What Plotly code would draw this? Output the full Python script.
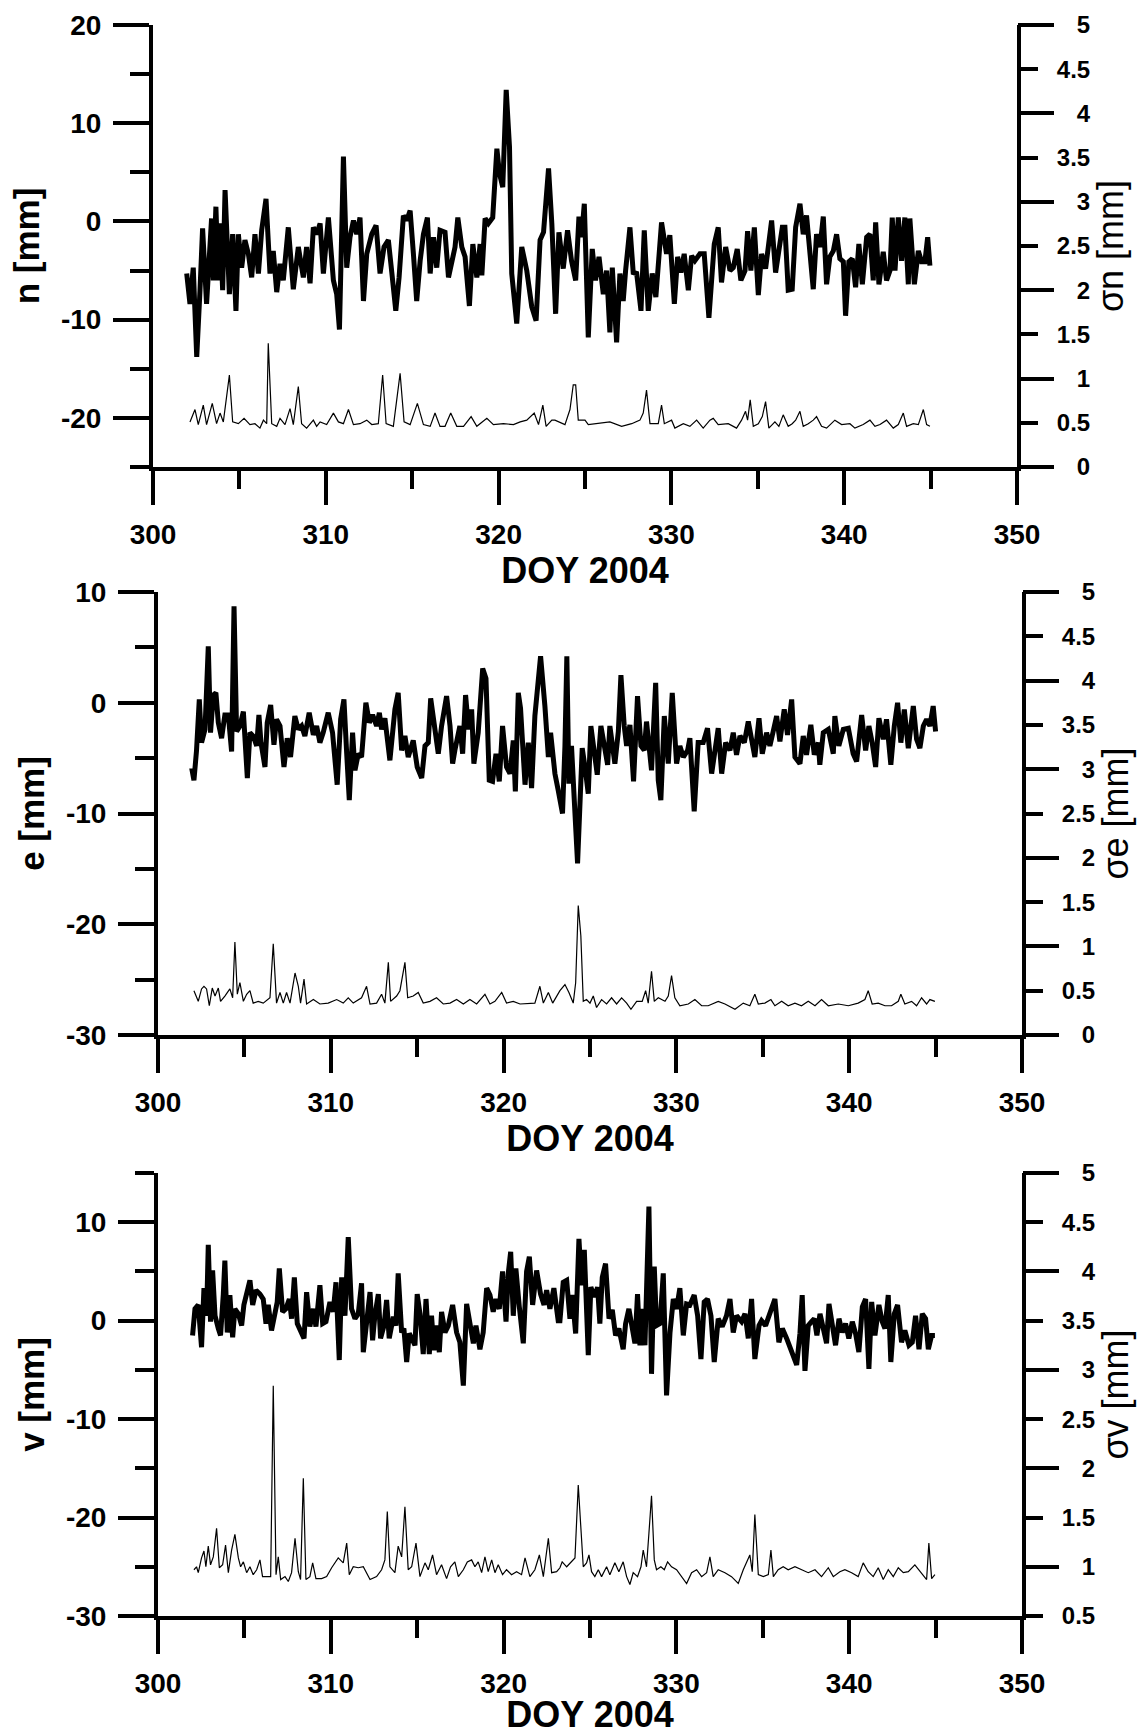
import plotly.graph_objects as go

# ---------------- data ----------------
# Panel 1: n residuals [mm] and sigma_n [mm]
n_doy = [301.95,302.14,302.33,302.53,302.72,302.87,303.10,303.30,303.39,303.49,303.64,303.78,303.88,304.03,304.17,
         304.42,304.61,304.80,304.94,305.13,305.32,305.52,305.71,305.90,306.10,306.29,306.54,306.77,306.96,307.16,
         307.35,307.54,307.83,308.12,308.41,308.70,308.89,309.09,309.28,309.47,309.67,309.86,310.15,310.44,310.63,
         310.79,311.02,311.21,311.40,311.60,311.79,311.98,312.18,312.37,312.66,312.91,313.14,313.37,313.62,313.82,
         314.05,314.24,314.49,314.68,314.88,315.07,315.26,315.46,315.65,315.88,316.04,316.23,316.42,316.61,316.90,
         317.10,317.29,317.48,317.64,317.87,318.06,318.31,318.51,318.74,318.93,319.03,319.22,319.41,319.66,319.90,
         320.05,320.24,320.44,320.63,320.76,321.05,321.34,321.63,321.92,322.17,322.40,322.60,322.89,323.08,
         323.30,323.49,323.74,323.99,324.22,324.46,324.65,324.80,324.96,325.19,325.42,325.61,325.81,326.06,326.25,
         326.44,326.58,326.83,327.02,327.21,327.35,327.60,327.79,327.99,328.24,328.43,328.66,328.89,329.10,329.43,
         329.72,329.91,330.17,330.36,330.55,330.74,330.98,331.17,331.36,331.65,331.90,332.17,332.48,332.71,332.90,
         333.14,333.39,333.58,333.81,334.02,334.26,334.41,334.60,334.80,335.03,335.22,335.45,335.80,336.03,336.28,
         336.42,336.57,336.76,336.99,337.19,337.44,337.63,337.82,338.02,338.21,338.40,338.60,338.79,338.98,339.17,
         339.37,339.56,339.75,339.95,340.08,340.27,340.47,340.66,340.85,341.05,341.30,341.49,341.68,341.82,342.01,
         342.26,342.45,342.65,342.78,342.94,343.13,343.32,343.51,343.71,343.80,344.06,344.29,344.48,344.67,344.83,
         344.96]
n_val = [-5.3,-8.4,-4.7,-13.8,-7.0,-0.7,-8.4,-1.9,0.3,-6.0,1.5,-6.0,-0.2,-7.0,3.2,
         -7.4,-1.3,-9.1,-1.3,-4.7,-1.9,-3.3,-5.7,-1.3,-5.3,-0.9,2.3,-5.3,-3.0,-7.2,
         -4.3,-6.0,-0.6,-6.9,-2.6,-5.7,-2.6,-6.3,-0.6,-1.3,-0.2,-5.3,0.4,-6.0,-7.4,
         -11.0,6.6,-4.7,-1.6,0.1,-1.3,0.4,-8.1,-3.3,-1.3,-0.4,-5.3,-2.6,-1.9,-5.2,
         -9.1,-5.7,0.6,0.1,1.1,-3.3,-8.1,-4.0,-1.3,0.4,-5.3,-1.6,-4.7,-0.9,-1.1,
         -5.7,-4.0,-2.6,0.4,-2.6,-3.6,-8.6,-2.3,-5.7,-2.3,-5.5,0.3,-0.2,0.4,7.4,
         4.9,3.5,13.4,7.6,-5.3,-10.4,-2.6,-5.0,-8.7,-10.1,-1.9,-1.1,5.4,-0.2,
         -9.4,-1.1,-4.8,-0.9,-4.0,-6.0,0.5,-1.6,1.8,-11.8,-2.8,-6.0,-3.6,-7.4,-5.0,
         -11.3,-4.7,-12.3,-5.3,-8.1,-5.0,-0.6,-5.2,-5.3,-9.1,-0.9,-9.1,-5.3,-7.7,-0.1,
         -3.3,-1.4,-8.4,-3.6,-5.2,-3.3,-7.0,-3.5,-4.0,-3.3,-3.3,-9.8,-2.3,-0.6,-6.2,
         -2.6,-5.0,-4.7,-2.8,-6.0,-5.0,-1.0,-5.0,-0.6,-7.5,-3.3,-4.8,0.1,-5.2,-2.6,
         -0.6,-0.6,-7.0,-6.9,-0.6,1.8,-1.3,0.6,-4.0,-6.9,-1.3,-2.6,0.5,-6.4,-3.6,
         -3.0,-1.3,-3.8,-4.1,-9.6,-4.1,-3.8,-6.7,-2.3,-6.4,-1.6,-1.3,-6.0,-0.1,-6.4,
         -3.1,-6.0,-5.0,0.4,-5.0,0.4,-4.0,0.4,-6.4,0.3,-6.4,-3.0,-4.1,-4.1,-1.6,
         -4.5]

sn_doy = [302.14,302.43,302.62,302.91,303.10,303.43,303.68,303.88,304.07,304.42,304.61,304.94,305.27,305.61,305.90,
          306.19,306.39,306.58,306.67,306.87,307.16,307.35,307.64,307.93,308.12,308.41,308.60,308.89,309.28,309.47,
          309.67,310.05,310.44,310.73,311.02,311.31,311.60,311.98,312.37,312.66,313.04,313.29,313.49,313.91,314.30,
          314.53,314.88,315.30,315.65,316.04,316.32,316.61,316.90,317.23,317.58,317.97,318.41,318.74,319.32,319.70,
          320.28,320.86,321.25,321.63,322.06,322.31,322.56,322.75,323.08,
          323.26,323.84,324.13,324.32,324.46,324.61,325.00,325.19,325.77,326.44,327.12,327.70,328.18,328.37,328.56,
          328.76,329.24,329.43,329.59,330.01,330.20,330.69,331.07,331.46,331.84,332.23,332.42,332.71,333.29,333.77,
          334.06,334.29,334.41,334.56,334.74,335.03,335.26,335.45,335.64,335.99,336.22,336.47,336.76,336.99,337.19,
          337.44,337.63,337.92,338.21,338.40,338.69,338.98,339.46,339.85,340.33,340.62,341.10,341.49,341.78,342.07,
          342.45,342.84,343.13,343.42,343.61,344.00,344.29,344.58,344.77,344.96]
sn_val = [0.51,0.65,0.48,0.70,0.48,0.72,0.49,0.61,0.51,1.04,0.51,0.49,0.55,0.48,0.49,
          0.44,0.53,0.49,1.40,0.49,0.46,0.55,0.48,0.66,0.48,0.91,0.49,0.44,0.53,0.46,
          0.51,0.48,0.61,0.51,0.49,0.65,0.48,0.49,0.53,0.48,0.49,1.04,0.49,0.46,1.06,
          0.51,0.48,0.72,0.48,0.46,0.61,0.46,0.46,0.61,0.46,0.46,0.57,0.46,0.55,0.48,
          0.49,0.48,0.51,0.53,0.61,0.48,0.70,0.46,0.53,
          0.53,0.48,0.65,0.93,0.93,0.53,0.53,0.48,0.49,0.51,0.46,0.49,0.53,0.61,0.87,
          0.49,0.49,0.70,0.49,0.53,0.44,0.49,0.46,0.53,0.44,0.53,0.55,0.48,0.49,0.44,
          0.53,0.63,0.53,0.76,0.46,0.49,0.57,0.74,0.44,0.51,0.46,0.59,0.46,0.49,0.53,
          0.63,0.46,0.49,0.53,0.57,0.46,0.44,0.53,0.48,0.49,0.44,0.48,0.53,0.46,0.48,
          0.53,0.44,0.48,0.61,0.46,0.49,0.48,0.65,0.48,0.46]

# Panel 2: e residuals [mm] and sigma_e [mm]
e_doy = [301.95,302.08,302.23,302.39,302.52,302.72,302.91,303.04,303.20,303.35,303.49,303.68,303.87,304.07,304.26,
         304.40,304.55,304.74,304.94,305.17,305.32,305.51,305.71,305.84,305.96,306.19,306.32,306.52,306.71,306.86,
         307.06,307.29,307.48,307.67,307.92,308.12,308.31,308.50,308.75,308.99,309.18,309.37,309.56,309.85,310.10,
         310.37,310.57,310.76,310.92,311.07,311.26,311.40,311.59,311.78,312.03,312.23,312.42,312.65,312.81,312.94,
         313.13,313.42,313.71,313.90,314.10,314.29,314.48,314.77,315.00,315.26,315.45,315.64,315.78,316.03,316.22,
         316.41,316.70,316.90,317.05,317.18,317.47,317.63,317.80,317.97,318.15,318.28,318.53,318.79,318.98,319.17,
         319.36,319.56,319.75,319.94,320.17,320.37,320.56,320.68,320.85,320.98,321.24,321.43,321.62,321.81,322.14,
         322.39,322.59,322.72,322.97,323.16,323.41,
         323.55,323.66,323.78,323.93,324.09,324.28,324.42,324.55,324.71,324.90,325.05,325.25,325.42,325.63,325.82,
         326.02,326.15,326.29,326.44,326.64,326.79,326.98,327.12,327.31,327.52,327.75,327.95,328.14,328.27,328.56,
         328.80,328.95,329.10,329.30,329.53,329.76,330.01,330.20,330.40,330.65,330.78,331.03,331.26,331.55,331.80,
         332.04,332.23,332.42,332.62,332.85,333.10,333.29,333.48,333.68,333.93,334.16,334.35,334.54,334.78,334.97,
         335.22,335.41,335.60,335.80,335.99,336.24,336.43,336.67,336.86,337.15,337.34,337.53,337.78,337.98,338.21,
         338.30,338.50,338.79,339.08,339.17,339.40,339.66,339.95,340.23,340.43,340.72,340.95,341.14,341.33,341.53,
         341.72,341.97,342.16,342.41,342.61,342.80,342.99,343.19,343.42,343.71,343.90,344.09,344.29,344.48,344.67,
         344.86,345.00]
e_val = [-5.9,-7.0,-4.3,0.3,-3.6,-2.4,5.1,-2.7,0.7,0.9,-1.8,-3.2,-1.1,-1.1,-4.4,
         8.7,-2.6,-2.1,-0.8,-6.8,-2.7,-3.0,-3.9,-1.1,-3.6,-5.8,-1.8,-0.2,-3.8,-1.5,
         -2.1,-5.8,-3.2,-4.9,-1.2,-2.4,-2.1,-3.0,-0.9,-2.9,-2.1,-3.6,-2.7,-0.9,-2.7,
         -7.4,-1.5,0.3,-4.6,-8.8,-2.7,-6.1,-4.6,-4.9,0.0,-1.8,-1.1,-2.1,-0.9,-2.4,
         -1.4,-5.2,-0.6,0.9,-4.3,-3.0,-4.9,-3.4,-5.8,-6.8,-3.9,-3.6,0.4,-2.7,-4.6,
         -2.1,0.6,-2.1,-5.5,-4.3,-2.1,-4.6,0.7,-2.4,-0.6,-5.5,-2.7,3.1,2.2,-7.0,
         -7.1,-4.6,-7.1,-2.1,-5.8,-6.4,-3.4,-8.0,0.9,-0.5,-7.4,-3.6,-7.7,-1.2,4.2,
         -0.3,-4.9,-2.7,-6.4,-7.9,-10.0,
         -3.9,4.2,-7.3,-3.9,-8.8,-14.5,-9.1,-4.1,-5.8,-8.2,-2.1,-4.9,-6.5,-2.1,-3.9,
         -5.6,-2.1,-3.6,-5.5,-2.6,2.5,-2.1,-3.9,-2.0,-7.1,0.6,-3.9,-4.3,-1.7,-6.1,
         1.8,-7.0,-8.8,-1.2,-5.5,0.9,-5.5,-3.9,-4.9,-4.3,-3.2,-9.8,-3.6,-3.6,-2.3,
         -6.4,-3.9,-2.3,-6.4,-3.6,-4.3,-2.7,-4.7,-3.0,-3.6,-1.7,-3.3,-4.9,-1.4,-4.6,
         -2.7,-3.9,-2.6,-1.2,-3.5,-0.6,-2.9,0.3,-4.9,-5.5,-3.0,-4.7,-2.0,-4.7,-3.6,
         -5.6,-2.7,-2.4,-4.6,-1.2,-3.9,-2.4,-2.3,-4.6,-5.3,-1.1,-4.3,-2.1,-3.6,-5.8,
         -1.4,-3.3,-1.5,-5.6,-2.1,0.0,-3.6,-0.6,-4.1,-0.3,-3.3,-4.1,-2.1,-1.5,-2.1,
         -0.3,-2.6]

se_doy = [302.08,302.33,302.52,302.66,302.81,302.97,303.14,303.30,303.49,303.62,303.87,304.16,304.32,304.45,304.59,
          304.74,304.94,305.13,305.32,305.51,305.80,306.09,306.48,306.67,306.86,307.06,307.25,307.44,307.64,307.93,
          308.12,308.25,308.45,308.60,308.99,309.37,309.85,310.34,310.72,311.01,311.30,311.78,312.07,312.27,312.65,
          312.94,313.13,313.33,313.46,313.81,314.00,314.29,314.45,314.77,315.06,315.35,315.74,316.12,316.51,316.90,
          317.28,317.67,318.05,318.44,318.92,319.21,319.50,319.89,320.17,320.56,320.95,321.43,321.81,322.10,322.30,
          322.59,322.84,
          323.26,323.55,323.78,324.03,324.17,324.32,324.47,324.61,324.80,325.00,325.19,325.38,325.67,325.96,326.25,
          326.54,326.83,327.12,327.37,327.70,328.02,328.22,328.37,328.56,328.72,328.95,329.34,329.53,329.72,329.91,
          330.20,330.69,331.07,331.46,331.84,332.42,332.81,333.39,333.87,334.25,334.54,334.74,335.12,335.47,335.70,
          336.09,336.47,336.86,337.24,337.63,338.02,338.40,338.79,339.37,339.95,340.52,340.91,341.10,341.33,341.68,
          342.07,342.45,342.84,342.99,343.22,343.61,343.90,344.19,344.48,344.67,344.96]
se_val = [0.50,0.38,0.52,0.55,0.52,0.33,0.53,0.44,0.53,0.38,0.44,0.52,0.42,1.05,0.46,
          0.59,0.38,0.46,0.50,0.36,0.38,0.36,0.42,1.03,0.36,0.48,0.36,0.48,0.36,0.70,
          0.55,0.36,0.63,0.35,0.40,0.35,0.36,0.40,0.36,0.42,0.36,0.42,0.55,0.35,0.36,
          0.46,0.36,0.82,0.38,0.44,0.50,0.82,0.42,0.44,0.48,0.36,0.38,0.42,0.35,0.36,
          0.40,0.35,0.40,0.35,0.46,0.35,0.38,0.48,0.36,0.38,0.35,0.36,0.36,0.55,0.36,
          0.48,0.36,
          0.50,0.57,0.48,0.36,0.59,1.46,1.12,0.38,0.40,0.36,0.44,0.31,0.40,0.35,0.42,
          0.35,0.42,0.36,0.29,0.38,0.38,0.50,0.36,0.72,0.38,0.42,0.38,0.44,0.67,0.42,
          0.33,0.35,0.40,0.33,0.33,0.38,0.35,0.29,0.36,0.33,0.46,0.35,0.36,0.40,0.33,
          0.38,0.33,0.36,0.33,0.38,0.33,0.40,0.33,0.35,0.33,0.36,0.40,0.50,0.35,0.36,
          0.33,0.33,0.38,0.46,0.35,0.38,0.33,0.42,0.35,0.40,0.38]

# Panel 3: v residuals [mm] and sigma_v [mm]
v_doy = [302.00,302.14,302.33,302.52,302.66,302.81,302.91,303.04,303.16,303.30,303.49,303.62,303.78,303.87,304.01,
         304.16,304.32,304.45,304.65,304.84,304.97,305.13,305.32,305.48,305.67,305.90,306.09,306.25,306.38,306.57,
         306.77,306.90,307.02,307.21,307.40,307.60,307.73,307.89,308.06,308.21,308.45,308.60,308.79,308.99,309.14,
         309.37,309.53,309.72,309.95,310.14,310.30,310.49,310.63,310.82,311.01,311.20,311.40,311.59,311.78,311.88,
         312.07,312.27,312.42,312.55,312.75,312.88,313.08,313.23,313.38,313.62,313.77,313.90,314.10,314.23,314.39,
         314.54,314.68,314.87,315.00,315.16,315.35,315.51,315.70,315.83,315.97,316.12,316.28,316.41,316.61,316.80,
         317.05,317.28,317.47,317.67,317.86,318.05,318.25,318.40,318.63,318.82,319.02,319.21,319.40,319.56,319.75,
         319.94,320.14,320.27,320.41,320.56,320.71,320.91,321.14,321.33,321.49,321.68,321.91,322.14,322.34,322.49,
         322.68,322.91,323.16,
         323.26,323.45,323.65,323.84,323.97,324.17,324.36,324.51,324.67,324.90,325.05,325.25,325.44,325.57,325.71,
         325.90,326.10,326.29,326.48,326.67,326.92,327.06,327.25,327.45,327.60,327.75,327.89,328.02,328.18,328.41,
         328.56,328.72,328.85,329.05,329.24,329.43,329.63,329.82,330.01,330.20,330.40,330.59,330.78,331.03,331.23,
         331.42,331.61,331.80,332.00,332.19,332.42,332.65,332.90,333.10,333.29,333.48,333.77,333.97,334.16,334.35,
         334.54,334.78,334.93,335.16,335.41,335.70,335.93,336.13,336.38,336.57,336.76,336.96,337.15,337.28,337.44,
         337.63,337.82,337.98,338.13,338.31,338.50,338.69,338.83,339.02,339.21,339.41,339.60,339.79,339.98,340.18,
         340.37,340.56,340.76,340.95,341.14,341.30,341.49,341.72,341.91,342.07,342.26,342.41,342.61,342.80,343.03,
         343.22,343.46,343.65,343.84,344.04,344.23,344.42,344.58,344.77,344.96]
v_val = [-1.5,1.2,1.6,-2.7,3.3,0.5,7.7,-0.1,5.1,0.5,-0.8,-1.5,2.7,6.1,-1.2,
         2.6,-1.7,1.2,0.7,-0.5,1.6,2.9,4.1,1.6,3.1,2.7,2.2,-0.3,1.6,-1.0,
         1.2,1.9,5.3,0.9,1.2,2.2,0.2,4.4,-0.3,-0.8,-1.8,2.9,-0.6,1.2,-0.6,
         3.6,-0.3,-0.1,1.9,0.9,3.9,-4.0,4.4,0.5,8.5,1.2,0.2,0.7,3.8,-3.2,
         -0.1,2.9,-2.0,0.5,2.7,-1.8,-0.5,2.1,-1.8,0.4,-0.5,4.8,-1.2,-0.8,-4.2,
         -1.3,-1.8,-2.5,2.7,0.7,-3.4,2.2,-3.4,0.5,-3.0,-0.5,-3.2,0.9,-1.2,-0.5,
         1.6,-1.2,-2.2,-6.6,1.7,-0.1,-2.3,-0.5,-2.9,-1.2,3.3,2.6,0.9,2.2,1.2,
         5.0,-0.1,4.8,7.0,0.5,5.3,1.4,-2.3,5.0,6.5,1.6,5.1,2.7,1.6,3.1,
         1.2,3.3,0.0,
         0.0,3.9,4.1,0.2,2.6,-1.3,8.3,3.6,7.2,-3.5,3.4,2.4,3.4,-0.3,4.4,
         5.8,0.2,1.1,-1.5,-0.8,-2.9,-0.3,1.2,-1.2,-2.3,2.7,-2.5,1.2,-2.5,11.6,
         -5.4,5.5,-0.5,-0.3,4.8,-7.6,-1.2,2.2,1.2,3.3,-1.5,1.7,1.6,2.6,0.5,
         -3.9,1.9,2.2,0.5,-4.2,0.2,-0.6,0.5,2.2,-1.2,0.5,-0.1,0.7,-1.8,2.2,
         -3.9,-0.5,0.0,-0.5,0.9,2.2,-2.2,-0.8,-1.8,-2.7,-3.9,-4.5,-1.3,2.6,-5.1,
         -0.5,-0.1,0.2,-1.5,0.7,-0.8,-2.3,1.7,-0.1,-2.5,0.2,-1.2,-0.3,-1.8,-0.1,
         -1.3,-3.2,1.4,2.2,-4.9,1.9,-1.5,1.6,-0.1,-0.8,2.6,-4.2,0.7,1.6,-2.2,
         -1.0,-2.5,-2.2,0.5,-2.9,0.7,0.2,-2.9,-1.5,-1.5]

sv_doy = [302.08,302.23,302.33,302.52,302.66,302.77,302.91,303.04,303.20,303.39,303.55,303.74,303.91,304.07,304.26,
          304.45,304.65,304.78,304.94,305.13,305.32,305.51,305.71,305.90,306.05,306.29,306.52,306.67,306.83,306.96,
          307.10,307.35,307.54,307.73,307.93,308.12,308.25,308.41,308.56,308.79,308.95,309.14,309.47,309.76,310.05,
          310.43,310.72,310.92,311.07,311.30,311.59,311.88,312.27,312.65,312.94,313.13,313.27,313.42,313.71,313.90,
          314.10,314.29,314.48,314.68,314.93,315.16,315.45,315.64,315.89,316.12,316.41,316.70,316.93,317.18,317.38,
          317.67,317.90,318.15,318.34,318.53,318.73,318.92,319.11,319.31,319.50,319.69,319.94,320.17,320.46,320.75,
          321.04,321.24,321.52,321.81,322.07,322.30,322.59,322.78,
          323.07,323.26,323.39,323.65,323.90,324.13,324.32,324.47,324.61,324.80,324.94,325.09,325.28,325.48,325.67,
          325.96,326.15,326.44,326.67,326.92,327.12,327.31,327.50,327.75,327.95,328.08,328.27,328.41,328.56,328.72,
          328.85,329.10,329.30,329.49,329.72,330.01,330.30,330.59,330.88,331.17,331.46,331.75,331.94,332.13,332.42,
          332.81,333.19,333.58,333.87,334.06,334.25,334.39,334.54,334.74,335.03,335.32,335.47,335.61,335.89,336.18,
          336.47,336.86,337.24,337.63,338.02,338.40,338.79,339.08,339.46,339.75,340.14,340.52,340.81,341.10,341.39,
          341.68,341.97,342.26,342.55,342.84,343.13,343.42,343.80,344.19,344.48,344.61,344.77,344.96]
sv_val = [0.97,1.00,0.94,1.09,1.16,1.00,1.21,1.02,1.10,1.39,0.99,1.02,1.22,0.94,1.17,
          1.33,1.09,1.00,1.05,0.94,1.00,0.92,0.97,1.07,0.90,0.90,0.90,2.84,0.92,1.10,
          0.87,0.90,0.85,0.94,1.29,0.95,0.87,1.90,0.87,0.90,1.04,0.88,0.88,0.90,0.99,
          1.09,1.04,1.24,0.92,1.00,0.99,1.00,0.87,0.90,0.97,1.07,1.56,1.00,0.94,1.21,
          1.10,1.61,0.97,1.00,1.24,0.90,1.04,0.97,1.12,0.92,1.02,0.88,1.00,1.05,0.90,
          0.97,1.05,1.07,1.00,1.05,0.94,1.10,0.95,1.07,0.94,1.02,0.92,0.97,0.92,0.95,
          0.92,1.09,0.90,0.97,1.12,0.90,1.29,0.94,
          0.95,0.99,1.05,1.00,1.05,1.09,1.83,1.34,1.00,1.04,1.12,0.95,0.90,0.97,0.90,
          1.00,0.92,1.04,0.95,1.05,0.90,0.82,0.94,0.90,1.00,1.17,1.00,1.34,1.72,1.07,
          0.97,1.00,0.97,1.05,1.00,0.97,0.90,0.83,0.94,0.97,0.90,0.94,1.10,0.90,0.97,
          0.94,0.90,0.83,0.97,1.04,1.12,0.95,1.53,0.92,0.90,0.92,1.17,0.90,0.97,1.00,
          0.97,1.00,0.97,0.94,0.97,0.90,0.99,0.90,0.95,0.97,0.94,0.90,1.04,0.95,0.90,
          0.99,0.87,0.97,0.90,0.99,0.94,0.95,1.02,0.94,0.87,1.24,0.88,0.92]

# axis labels / ticks
x_ticks = [300, 310, 320, 330, 340, 350]
x_minor = [305, 315, 325, 335, 345]
left_titles = ["n [mm]", "e [mm]", "v [mm]"]
right_titles = ["σn [mm]", "σe [mm]", "σv [mm]"]
left_ranges = [[-25, 20], [-30, 10], [-30, 15]]
left_major = [[-20, -10, 0, 10, 20], [-30, -20, -10, 0, 10], [-30, -20, -10, 0, 10]]
left_minor = [[-25, -15, -5, 5, 15], [-25, -15, -5, 5], [-25, -15, -5, 5, 15]]
right_ranges = [[0, 5], [0, 5], [0.5, 5]]
right_ticks = [[0, 0.5, 1, 1.5, 2, 2.5, 3, 3.5, 4, 4.5, 5],
               [0, 0.5, 1, 1.5, 2, 2.5, 3, 3.5, 4, 4.5, 5],
               [0.5, 1, 1.5, 2, 2.5, 3, 3.5, 4, 4.5, 5]]
right_int = [[0, 1, 2, 3, 4, 5], [0, 1, 2, 3, 4, 5], [1, 2, 3, 4, 5]]

series = [(n_doy, n_val, sn_doy, sn_val), (e_doy, e_val, se_doy, se_val), (v_doy, v_val, sv_doy, sv_val)]

# ---------------- layout ----------------
W, H = 1141, 1735
FONT = "Liberation Sans, Arial, sans-serif"
# pixel boxes of the three plot areas: (left, right, top, bottom)
boxes = [(153, 1017, 25, 467), (158, 1022, 592, 1035), (158, 1022, 1173, 1616)]

def fmt_left(v):
    return str(v)  # plain hyphen minus

def fmt_right(v):
    s = ("%g" % v)
    if "." not in s:
        s = "\u2007\u2008" + s  # pad integers so labels right-align
    return s

fig = go.Figure()
layout = dict(width=W, height=H, margin=dict(l=0, r=0, t=0, b=0),
              paper_bgcolor="white", plot_bgcolor="white", showlegend=False,
              font=dict(family=FONT, color="black"))

for i, (box, ser) in enumerate(zip(boxes, series)):
    l, r, t, b = box
    xd = [l / W, r / W]
    yd = [1 - b / H, 1 - t / H]
    xn = "xaxis" if i == 0 else f"xaxis{i + 1}"
    xr = "x" if i == 0 else f"x{i + 1}"
    yl_idx = 3 * i + 1
    yl = "y" if yl_idx == 1 else f"y{yl_idx}"
    yl_name = "yaxis" if yl_idx == 1 else f"yaxis{yl_idx}"
    yr = f"y{yl_idx + 1}"
    yr_name = f"yaxis{yl_idx + 1}"
    yi_name = f"yaxis{yl_idx + 2}"

    layout[xn] = dict(domain=xd, anchor=yl, range=[300, 350], showgrid=False, zeroline=False,
                      showline=True, linewidth=4, linecolor="black",
                      tickmode="array", tickvals=x_ticks, ticktext=[str(v) for v in x_ticks],
                      ticks="outside", ticklen=34, tickwidth=4, tickcolor="black",
                      minor=dict(tickmode="array", tickvals=x_minor, ticks="outside", ticklen=18,
                                 tickwidth=4, tickcolor="black", showgrid=False),
                      tickfont=dict(family=FONT, size=28, color="black", weight="bold"),
                      ticklabelstandoff=5, automargin=False,
                      title=dict(text="DOY 2004", standoff=4,
                                 font=dict(family=FONT, size=36, color="black", weight="bold")))
    layout[yl_name] = dict(domain=yd, anchor=xr, range=left_ranges[i], showgrid=False, zeroline=False,
                           showline=True, linewidth=4, linecolor="black",
                           tickmode="array", tickvals=left_major[i],
                           ticktext=[fmt_left(v) for v in left_major[i]],
                           ticks="outside", ticklen=36, tickwidth=4, tickcolor="black",
                           minor=dict(tickmode="array", tickvals=left_minor[i], ticks="outside", ticklen=19,
                                      tickwidth=4, tickcolor="black", showgrid=False),
                           tickfont=dict(family=FONT, size=28, color="black", weight="bold"),
                           ticklabelstandoff=6, automargin=False,
                           title=dict(text=left_titles[i], standoff=12,
                                      font=dict(family=FONT, size=35, color="black", weight="bold")))
    layout[yr_name] = dict(overlaying=yl, anchor=xr, side="right", range=right_ranges[i],
                           showgrid=False, zeroline=False, showline=True, linewidth=4, linecolor="black",
                           tickmode="array", tickvals=right_ticks[i],
                           ticktext=[fmt_right(v) for v in right_ticks[i]],
                           ticks="outside", ticklen=17, tickwidth=4, tickcolor="black",
                           tickfont=dict(family=FONT, size=24, color="black", weight="bold"),
                           ticklabelstandoff=14, automargin=False,
                           title=dict(text=right_titles[i], standoff=9,
                                      font=dict(family=FONT, size=36, color="black")))
    layout[yi_name] = dict(overlaying=yl, anchor=xr, side="right", range=right_ranges[i],
                           showgrid=False, zeroline=False, showline=False,
                           tickmode="array", tickvals=right_int[i], showticklabels=False,
                           ticks="outside", ticklen=36, tickwidth=4, tickcolor="black",
                           automargin=False)

    d, val, sd, sval = ser
    fig.add_trace(go.Scatter(x=d, y=val, mode="lines", xaxis=xr, yaxis=yl,
                             line=dict(color="black", width=5), hoverinfo="skip"))
    fig.add_trace(go.Scatter(x=sd, y=sval, mode="lines", xaxis=xr, yaxis=yr,
                             line=dict(color="black", width=1.2), hoverinfo="skip"))
    # empty trace so the integer-tick axis is kept alive
    fig.add_trace(go.Scatter(x=[None], y=[None], mode="lines", xaxis=xr, yaxis=f"y{yl_idx + 2}",
                             showlegend=False, hoverinfo="skip"))

fig.update_layout(**layout)
fig.write_html("out.html", config={"displayModeBar": False},
               post_script="document.body.style.margin='0';document.body.style.overflow='hidden';")
